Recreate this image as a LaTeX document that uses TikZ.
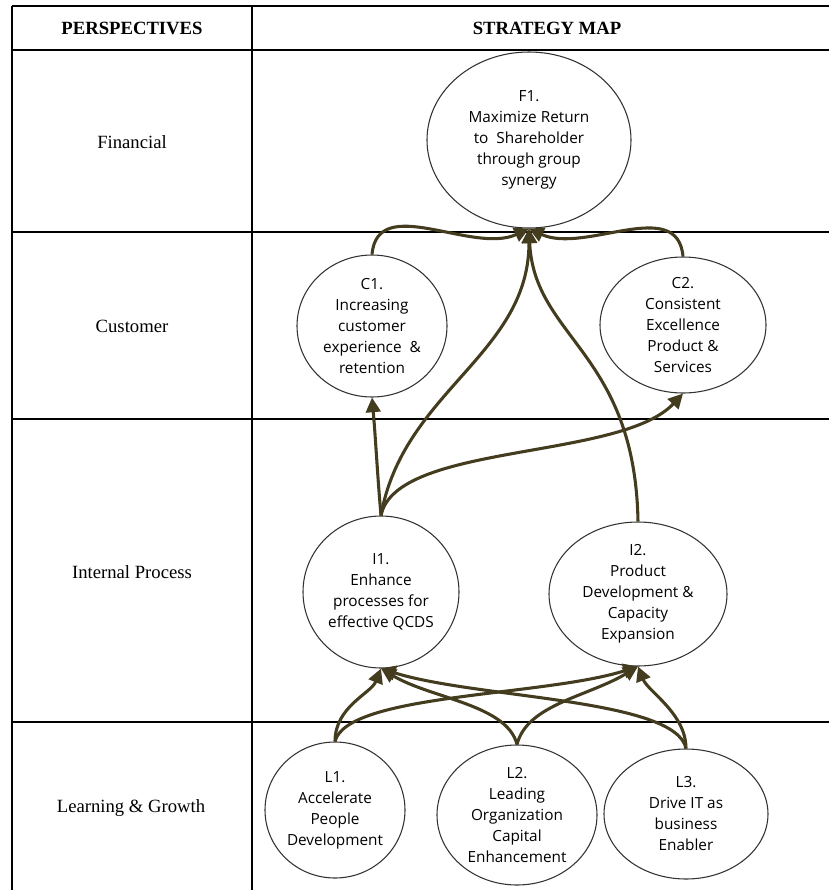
\documentclass[tikz,border=0pt]{standalone}
\usepackage{fontspec}
\setmainfont{Liberation Serif}
\newfontfamily\goalfont{Open Sans}
\usetikzlibrary{shapes.geometric,arrows.meta}
\definecolor{linkcol}{HTML}{433C1E}

\begin{document}
\begin{tikzpicture}[x=0.75pt, y=0.75pt, every node/.style={font=\fontsize{14}{17}\selectfont},
  goal/.style={draw=black!80, line width=0.8pt, ellipse, inner sep=0pt, fill=white},
  goaltext/.style={align=center, font=\goalfont\fontsize{11.5}{15.75}\selectfont, text=black},
  link/.style={draw=linkcol, line width=2.3pt, -{Triangle[length=11pt,width=11pt]}},
  grid/.style={line width=1pt}]
  \useasboundingbox (0,0) rectangle (829,-890);
  % table
  \draw[grid] (12,-6) -- (829,-6);
  \draw[grid, line width=1.6pt] (12,-50) -- (829,-50);
  \draw[grid] (12,-232) -- (829,-232);
  \draw[grid] (12,-419) -- (829,-419);
  \draw[grid] (12,-722) -- (829,-722);
  \draw[grid] (12,-6) -- (12,-890);
  \draw[grid] (252,-6) -- (252,-890);
  \node[font=\fontsize{14}{17}\selectfont\bfseries] (hpersp) at (132,-28) {PERSPECTIVES};
  \node[font=\fontsize{14}{17}\selectfont\bfseries] (hmap) at (547,-28) {STRATEGY MAP};
  \node (pfin) at (132,-142) {Financial};
  \node (pcust) at (132,-326) {Customer};
  \node (pint) at (132,-572) {Internal Process};
  \node (plearn) at (131,-808) {Learning \& Growth};
  % objectives
  \node[goal, minimum width=153pt, minimum height=132pt, label={[goaltext]center:F1.\\Maximize Return\\to \ Shareholder\\through group\\synergy}] (f1) at (529,-140) {};
  \node[goal, minimum width=112.5pt, minimum height=106.5pt, label={[goaltext]center:C1.\\Increasing\\customer\\experience \ \&\\retention}] (c1) at (372,-326) {};
  \node[goal, minimum width=124.5pt, minimum height=102pt, label={[goaltext]center:C2.\\Consistent\\Excellence\\Product \&\\Services}] (c2) at (683,-325) {};
  \node[goal, minimum width=117pt, minimum height=114pt, label={[goaltext]center:I1.\\Enhance\\processes for\\effective QCDS}] (i1) at (381,-592) {};
  \node[goal, minimum width=133.5pt, minimum height=108pt, label={[goaltext]center:I2.\\Product\\Development \&\\Capacity\\Expansion}] (i2) at (638,-594) {};
  \node[goal, minimum width=105pt, minimum height=102pt, label={[goaltext]center:L1.\\Accelerate\\People\\Development}] (l1) at (335,-810) {};
  \node[goal, minimum width=120pt, minimum height=105pt, label={[goaltext]center:L2.\\Leading\\Organization\\Capital\\Enhancement}] (l2) at (517,-815) {};
  \node[goal, minimum width=123pt, minimum height=97.5pt, label={[goaltext]center:L3.\\Drive IT as\\business\\Enabler}] (l3) at (686,-814) {};
  % links
  \draw[link] (c1.north) to[out=85, in=-155] (f1.south);
  \draw[link] (c2.north) to[out=95, in=-25] (f1.south);
  \draw[link] (i1.north) to[out=95, in=-85] (c1.south);
  \draw[link] (i1.north) to[out=80, in=-90] (f1.south);
  \draw[link] (i1.north) .. controls +(15,73) and +(-63,-67) .. (c2.south);
  \draw[link] (i2.north) .. controls +(-3,170) and +(5,-110) .. (f1.south);
  \draw[link] (l1.north) .. controls +(0,35) and +(-10,-25) .. (i1.south);
  \draw[link] (l1.north) .. controls +(12,48) and +(-95,-30) .. (i2.south);
  \draw[link] (l2.north) .. controls +(-10,40) and +(50,-30) .. (i1.south);
  \draw[link] (l2.north) .. controls +(10,40) and +(-50,-30) .. (i2.south);
  \draw[link] (l3.north) .. controls +(-10,50) and +(95,-30) .. (i1.south);
  \draw[link] (l3.north) .. controls +(0,35) and +(10,-25) .. (i2.south);
\end{tikzpicture}
\end{document}
